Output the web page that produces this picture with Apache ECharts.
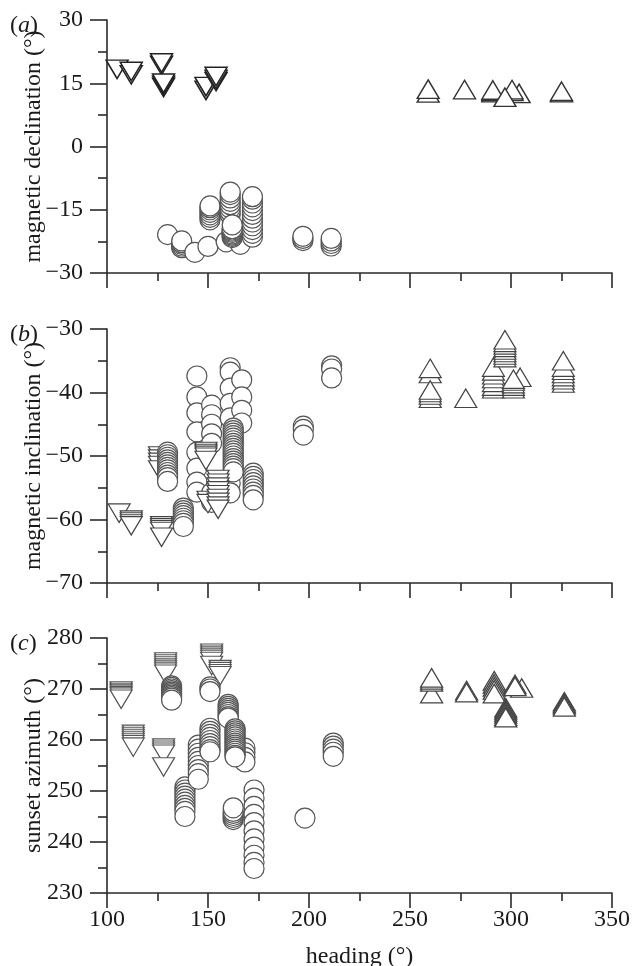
<!DOCTYPE html>
<html><head><meta charset="utf-8">
<script src="https://cdn.jsdelivr.net/npm/echarts@6/dist/echarts.min.js"></script>
<style>html,body{margin:0;padding:0;background:#fff}#c{width:635px;height:966px}</style>
</head><body><div id="c"></div>
<script>
// ---- axis ranges / labels ----
const xRange = [100, 350, 50];
const yRanges = [[-30, 30, 15], [-70, -30, 10], [230, 280, 10]];
const yNames = ['magnetic declination (°)', 'magnetic inclination (°)', 'sunset azimuth (°)'];
const xName = 'heading (°)';
const panelTags = ['a', 'b', 'c'];

// ---- (a) magnetic declination: [heading, value] ----
const declDown = [[105,18.3],[112,17.0],[112,17.8],[127,19.2],[127,19.8],[128,14.0],[128,14.5],[128,15.0],
  [149,13.3],[149,14.2],[154,15.4],[154,15.9],[154,16.6]];
const declCircle = [[130,-20.9],
  [137,-24.0],[137,-23.6],[137,-23.2],[137,-22.8],[137,-22.4],
  [143.5,-25.1],[150,-23.7],
  [151,-17.4],[151,-16.8],[151,-16.2],[151,-15.6],[151,-15.0],[151,-14.5],[151,-14.1],
  [161,-16.2],[161,-15.4],[161,-14.6],[161,-13.8],[161,-13.0],[161,-12.2],[161,-11.4],[161,-10.8],
  [159,-22.6],[166,-23.2],
  [172,-21.5],[172,-20.6],[172,-19.7],[172,-18.8],[172,-17.9],[172,-17.0],[172,-16.1],[172,-15.2],[172,-14.3],[172,-13.4],[172,-12.5],[172,-11.9],
  [162,-21.6],[162,-21.3],[162,-21.0],[162,-20.7],[162,-20.4],[162,-20.1],[162,-19.8],[162,-19.5],[162,-18.6],
  [197,-22.3],[197,-21.8],[197,-21.3],
  [211,-23.6],[211,-23.0],[211,-22.4],[211,-21.8]];
const declUp = [[259,12.7],[259,13.6],[277,13.5],[291,12.8],[291,13.1],[291,13.4],[304,12.6],
  [300.5,13.1],[300.5,13.5],[297,11.7],[325,12.8],[325,13.1]];

// ---- (b) magnetic inclination ----
const incDown = [[106,-59.0],
  [112,-60.1],[112,-60.4],[112,-60.7],[112,-61.0],
  [126,-50.0],[126,-50.5],[126,-51.0],[126,-51.5],[126,-52.2],
  [127,-61.0],[127,-61.3],[127,-61.6],[127,-61.9],[127,-62.8],
  [149,-49.3],[149,-49.6],[149,-49.9],[149,-50.2],[149,-50.7],
  [150,-57.0],[150,-57.5],
  [155,-53.7],[155,-54.3],[155,-54.9],[155,-55.5],[155,-56.1],[155,-56.7],[155,-57.3],[155,-57.9],[155,-58.4]];
const incCircle = [
  [144.5,-37.4],[144.5,-40.7],[144.5,-43.2],[144.5,-46.2],[144.5,-49.4],[144.5,-51.9],[144.5,-54.1],[144.5,-55.7],
  [151.8,-42.0],[151.8,-43.5],[151.8,-45.0],[151.8,-46.5],[151.8,-48.0],[151.8,-55.8],[151.8,-57.3],
  [130,-49.4],[130,-49.8],[130,-50.2],[130,-50.6],[130,-51.0],[130,-51.4],[130,-51.8],[130,-52.2],[130,-52.6],[130,-53.0],[130,-53.4],[130,-54.0],
  [137.8,-58.2],[137.8,-58.6],[137.8,-59.0],[137.8,-59.4],[137.8,-59.8],[137.8,-60.2],[137.8,-60.6],[137.8,-61.1],
  [161,-36.1],[161,-36.8],[161,-39.3],[161,-41.7],[161,-44.0],[161,-54.3],[161,-55.8],
  [166.7,-38.0],[166.7,-40.7],[166.7,-42.8],[166.7,-44.8],
  [172.4,-52.7],[172.4,-53.2],[172.4,-53.7],[172.4,-54.2],[172.4,-54.7],[172.4,-55.2],[172.4,-55.7],[172.4,-56.2],[172.4,-56.9],
  [162.5,-45.6],[162.5,-46.0],[162.5,-46.4],[162.5,-46.8],[162.5,-47.2],[162.5,-47.6],[162.5,-48.0],[162.5,-48.4],[162.5,-48.8],
  [162.5,-49.2],[162.5,-49.6],[162.5,-50.0],[162.5,-50.4],[162.5,-50.8],[162.5,-51.2],[162.5,-51.6],[162.5,-52.0],[162.5,-52.5],
  [197.2,-45.3],[197.2,-45.8],[197.2,-46.7],
  [211.2,-35.8],[211.2,-36.3],[211.2,-37.7]];
const incUp = [[304.5,-37.6],
  [260,-37.0],[260,-36.2],[260,-40.9],[260,-40.4],[260,-40.0],[260,-39.6],
  [277.6,-40.9],
  [291.3,-39.4],[291.3,-39.0],[291.3,-38.4],[291.3,-37.8],[291.3,-37.2],[291.3,-36.6],[291.3,-36.0],
  [297,-34.5],[297,-34.1],[297,-33.7],[297,-33.3],[297,-32.9],[297,-32.5],[297,-32.1],[297,-31.7],
  [301.2,-39.4],[301.2,-39.0],[301.2,-38.6],[301.2,-38.2],[301.2,-37.9],
  [325.9,-38.5],[325.9,-38.0],[325.9,-37.5],[325.9,-37.0],[325.9,-36.5],[325.9,-36.0],[325.9,-35.0]];

// ---- (c) sunset azimuth ----
const azDown = [[107,269.6],[107,269.3],[107,269.0],[107,268.7],[107,268.4],[107,268.0],
  [113,261.1],[113,260.7],[113,260.3],[113,259.9],[113,259.5],[113,259.1],[113,258.6],
  [129,275.3],[129,274.9],[129,274.5],[129,274.1],[129,273.7],[129,273.3],[129,272.9],
  [128,258.4],[128,258.0],[128,257.6],[128,257.2],[128,254.7],
  [151.8,277.0],[151.8,276.6],[151.8,276.2],[151.8,275.8],[151.8,275.4],[151.8,274.6],
  [156,273.8],[156,273.4],[156,273.0],[156,272.6]];
const azCircle = [
  [132,270.6],[132,270.3],[132,270.0],[132,269.7],[132,269.4],[132,269.1],[132,268.8],[132,268.5],[132,268.2],[132,267.8],
  [138.6,250.8],[138.6,250.2],[138.6,249.6],[138.6,249.0],[138.6,248.4],[138.6,247.8],[138.6,247.2],[138.6,246.6],[138.6,246.0],[138.6,245.0],
  [145.2,259.0],[145.2,258.2],[145.2,257.4],[145.2,256.6],[145.2,255.8],[145.2,255.0],[145.2,254.2],[145.2,253.4],[145.2,252.3],
  [151,270.4],[151,270.0],[151,269.5],
  [151,262.3],[151,261.7],[151,261.1],[151,260.5],[151,259.9],[151,259.3],[151,258.7],[151,258.1],[151,257.7],
  [160,267.0],[160,266.6],[160,266.2],[160,265.8],[160,265.4],[160,265.0],[160,264.6],[160,264.3],
  [168.3,258.4],[168.3,257.5],[168.3,256.6],[168.3,255.7],
  [163.4,262.2],[163.4,261.8],[163.4,261.4],[163.4,261.0],[163.4,260.6],[163.4,260.2],[163.4,259.8],[163.4,259.4],
  [163.4,259.0],[163.4,258.6],[163.4,258.2],[163.4,257.8],[163.4,257.4],[163.4,257.0],[163.4,256.7],
  [162.5,244.4],[162.5,244.8],[162.5,245.2],[162.5,245.6],[162.5,246.0],[162.5,246.7],
  [172.8,250.2],[172.8,248.6],[172.8,247.0],[172.8,245.4],[172.8,243.8],[172.8,242.2],[172.8,240.6],[172.8,239.0],[172.8,237.4],[172.8,236.0],[172.8,234.8],
  [198,244.7],
  [212,259.4],[212,258.8],[212,258.2],[212,257.6],[212,256.8]];
const azUp = [[260.7,269.1],[260.7,271.4],[260.7,271.8],[260.7,272.2],
  [278,269.7],[278,269.3],
  [291.7,271.6],[291.7,271.0],[291.7,270.4],[291.7,269.8],[291.7,269.1],
  [305.3,270.2],[302,270.9],[302,270.5],
  [297.4,266.3],[297.4,265.9],[297.4,265.5],[297.4,265.1],[297.4,264.7],[297.4,264.4],
  [326.4,267.5],[326.4,267.2],[326.4,266.9],[326.4,266.5]];

// ---- chart ----
const FONT = '"Liberation Serif", "Times New Roman", serif';
const INK = '#1a1a1a';
const AX = '#2a2a2a';
const gridTops = [20, 329, 638];
const gridHeights = [253, 254, 255];

function scat(data, gi, kind, color, bw) {
  return {
    type: 'scatter', xAxisIndex: gi, yAxisIndex: gi, data: data,
    symbol: kind === 'circle' ? 'circle' : 'triangle',
    symbolSize: kind === 'circle' ? 20 : [22, 18.5],
    symbolRotate: kind === 'down' ? 180 : 0,
    itemStyle: { color: '#fff', borderColor: color, borderWidth: bw, opacity: 1 },
    silent: true, animation: false, clip: false
  };
}

const lineStyle = { color: AX, width: 1.6 };
const grids = [], xAxes = [], yAxes = [], titles = [];
for (let i = 0; i < 3; i++) {
  grids.push({ left: 107, width: 505, top: gridTops[i], height: gridHeights[i],
    containLabel: false, outerBoundsMode: 'none' });
  xAxes.push({
    type: 'value', gridIndex: i, min: xRange[0], max: xRange[1], interval: xRange[2],
    axisLine: { show: true, onZero: false, lineStyle },
    axisTick: { show: true, length: 15, lineStyle },
    minorTick: { show: true, splitNumber: 2, length: 8, lineStyle },
    splitLine: { show: false }, minorSplitLine: { show: false },
    axisLabel: { show: i === 2, fontFamily: FONT, fontSize: 24, color: INK, margin: 15 },
    name: i === 2 ? xName : '', nameLocation: 'middle', nameGap: 52, nameMoveOverlap: false,
    nameTextStyle: { fontFamily: FONT, fontSize: 24, color: INK }
  });
  yAxes.push({
    type: 'value', gridIndex: i, min: yRanges[i][0], max: yRanges[i][1], interval: yRanges[i][2],
    axisLine: { show: true, onZero: false, lineStyle },
    axisTick: { show: true, length: 17, lineStyle },
    minorTick: { show: true, splitNumber: 2, length: 9, lineStyle },
    splitLine: { show: false }, minorSplitLine: { show: false },
    axisLabel: { fontFamily: FONT, fontSize: 24, color: INK, margin: 24,
      formatter: v => String(v).replace('-', '\u2212') },
    name: yNames[i], nameLocation: 'middle', nameGap: 61, nameMoveOverlap: false,
    nameTextStyle: { fontFamily: FONT, fontSize: 24, color: INK }
  });
  titles.push({
    text: '{p|(}{i|' + panelTags[i] + '}{p|)}', left: 5, top: gridTops[i] - 11,
    textStyle: { fontWeight: 'normal', rich: {
      p: { fontFamily: FONT, fontSize: 24, fontWeight: 'normal', color: INK },
      i: { fontFamily: FONT, fontSize: 24, fontWeight: 'normal', fontStyle: 'italic', color: INK } } }
  });
}

const series = [
  scat(declDown, 0, 'down', '#222', 1.5),
  scat(declCircle, 0, 'circle', '#555', 1.2),
  scat(declUp, 0, 'up', '#333', 1.4),
  scat(incDown.filter(d => d[0] < 140), 1, 'down', '#444', 1.2),
  scat(incCircle, 1, 'circle', '#555', 1.2),
  scat(incDown.filter(d => d[0] >= 140), 1, 'down', '#444', 1.2),
  scat(incUp, 1, 'up', '#444', 1.2),
  scat(azDown, 2, 'down', '#555', 1.2),
  scat(azCircle, 2, 'circle', '#555', 1.2),
  scat(azUp, 2, 'up', '#444', 1.3)
];

const chart = echarts.init(document.getElementById('c'), null, { renderer: 'canvas' });
chart.setOption({
  backgroundColor: '#fff', animation: false,
  title: titles, grid: grids, xAxis: xAxes, yAxis: yAxes, series
});
</script></body></html>
